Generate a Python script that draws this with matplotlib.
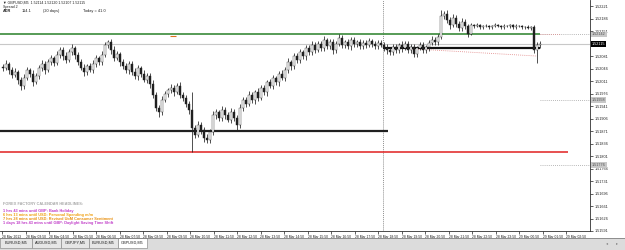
import matplotlib
matplotlib.use("Agg")
import matplotlib.pyplot as plt
from matplotlib.patches import Rectangle
from matplotlib.transforms import blended_transform_factory as btf
import numpy as np

plt.rcParams['font.family'] = ['Liberation Sans', 'DejaVu Sans']

# ---------------- data ----------------
ohlc_header = "GBPUSD,M5  1.52114 1.52120 1.52107 1.52115"
spread_text = "Spread 2"
adr_label = "ADR"
adr_value = "114.1"
adr_days = "(20 days)"
today_text = "Today = 41.0"

first_open_pips = 205.0
# closes in pips above 1.5000
close_pips = [
    204.8, 205.9, 204.2, 202.8, 203.6, 201.4, 199.7, 202.0, 204.2, 203.1,
    200.8, 202.5, 204.8, 205.9, 204.2, 206.4, 207.6, 206.2, 208.4, 209.8,
    208.1, 207.0, 209.2, 210.4, 208.4, 206.4, 204.8, 203.6, 205.3, 204.2,
    205.9, 207.6, 206.4, 208.4, 211.2, 212.0, 209.8, 207.6, 208.7, 206.4,
    205.3, 204.2, 205.9, 203.6, 202.5, 204.8, 203.1, 201.4, 202.5, 200.3,
    197.2, 193.6, 192.4, 195.8, 197.5, 198.6, 199.2, 198.0, 199.7, 197.2,
    196.4, 194.7, 193.0, 188.0, 186.0, 188.8, 187.4, 185.2, 184.6, 186.8,
    191.6, 192.4, 190.8, 193.0, 191.6, 190.2, 192.4, 190.8, 188.8, 193.6,
    195.8, 194.7, 197.2, 195.8, 198.0, 196.4, 199.2, 198.0, 200.8, 199.7,
    202.0, 200.8, 203.1, 202.0, 204.2, 206.4, 205.3, 208.1, 207.0, 209.2,
    208.1, 210.4, 209.2, 211.2, 209.8, 211.5, 210.4, 212.6, 210.9, 212.0,
    209.8, 211.5, 213.2, 211.2, 212.0, 210.9, 212.6, 211.5, 212.0, 210.9,
    211.8, 211.2, 212.3, 211.5, 210.9, 211.8, 211.2, 210.4, 209.8, 209.2,
    210.6, 209.8, 211.2, 210.4, 211.5, 209.8, 210.6, 208.7, 210.4, 211.2,
    209.8, 210.6, 211.8, 212.6, 212.0, 213.4, 219.3, 219.9, 218.2, 216.8,
    218.8, 217.1, 216.0, 217.6, 216.5, 214.3, 216.8, 216.5, 216.8, 216.2,
    216.5, 216.5, 216.2, 216.5, 216.8, 216.5, 216.2, 216.5, 216.5, 216.8,
    216.2, 216.5, 216.5, 216.2, 216.2, 216.0, 216.2, 209.8, 211.2, 211.5,
]
up_wick = [
    0.8, 1.0, 0.6, 0.9, 1.2, 0.7, 0.8, 1.1, 0.9, 0.6, 1.0, 0.8, 0.7, 1.2, 0.9, 1.0, 0.8, 0.6, 1.1, 0.9,
    0.7, 1.0, 0.8, 1.2, 0.6, 0.9, 0.8, 1.0, 0.7, 0.9, 1.1, 0.8, 0.6, 1.0, 0.9, 0.7, 0.8, 1.2, 0.9, 0.6,
    1.0, 0.8, 0.7, 0.9, 1.1, 0.8, 0.6, 1.0, 0.9, 0.8, 1.2, 0.7, 0.9, 1.0, 0.8, 0.6, 1.1, 0.9, 0.8, 1.0,
    0.7, 0.9, 0.8, 5.0, 0.9, 1.1, 0.8, 0.7, 1.0, 0.9, 1.2, 0.8, 0.6, 1.0, 0.9, 0.7, 1.1, 0.8, 0.9, 1.0,
    0.8, 0.7, 1.0, 0.9, 0.6, 1.1, 0.8, 0.9, 0.7, 1.0, 0.8, 0.6, 0.9, 1.0, 0.8, 1.2, 0.7, 0.9, 0.8, 1.0,
    0.6, 0.9, 0.8, 1.0, 0.7, 0.9, 0.8, 1.1, 0.6, 0.8, 0.9, 0.7, 1.0, 0.8, 0.6, 0.9, 0.7, 0.8, 0.6, 0.9,
    0.7, 0.8, 0.9, 0.6, 0.8, 0.7, 0.9, 0.8, 1.0, 0.7, 0.9, 0.8, 0.6, 1.0, 0.8, 0.7, 0.9, 0.8, 0.6, 0.9,
    0.8, 0.7, 0.9, 1.0, 0.8, 0.9, 1.7, 0.9, 1.2, 0.8, 1.0, 0.7, 0.9, 1.1, 0.8, 0.6, 0.5, 0.4, 0.5, 0.3,
    0.4, 0.5, 0.3, 0.4, 0.5, 0.4, 0.3, 0.5, 0.4, 0.4, 0.3, 0.5, 0.4, 0.3, 0.4, 0.5, 0.4, 0.6, 0.9, 0.7,
]
down_wick = [
    0.9, 0.7, 1.1, 0.8, 0.6, 1.0, 1.2, 0.8, 0.7, 0.9, 1.0, 0.6, 0.8, 0.9, 1.1, 0.7, 0.8, 1.0, 0.6, 0.9,
    1.0, 0.8, 0.7, 0.9, 1.1, 0.8, 0.6, 1.0, 0.9, 0.7, 0.8, 1.0, 0.9, 0.7, 0.6, 0.8, 1.0, 0.9, 0.7, 1.1,
    0.8, 0.9, 1.0, 0.7, 0.8, 1.1, 0.9, 0.7, 0.8, 1.2, 0.9, 1.0, 1.4, 0.8, 0.7, 0.9, 0.8, 1.0, 0.6, 0.9,
    1.0, 0.8, 1.1, 6.8, 0.9, 0.7, 1.0, 1.2, 0.8, 0.9, 0.7, 1.0, 0.8, 0.9, 1.1, 0.7, 0.8, 1.0, 1.4, 0.8,
    0.9, 1.0, 0.7, 0.8, 1.1, 0.9, 0.7, 0.8, 1.0, 0.6, 0.9, 0.8, 1.0, 0.7, 0.9, 0.8, 1.1, 0.7, 0.9, 0.8,
    0.8, 1.0, 0.7, 0.9, 0.8, 0.6, 1.0, 0.8, 0.9, 0.7, 1.2, 0.8, 0.6, 0.9, 0.8, 0.7, 1.0, 0.8, 0.9, 0.7,
    0.8, 0.9, 0.7, 1.0, 0.8, 0.9, 0.7, 0.8, 1.0, 0.9, 0.7, 0.8, 0.9, 1.1, 0.7, 0.8, 0.9, 0.9, 0.8, 0.7,
    0.9, 0.8, 1.0, 0.7, 0.9, 0.8, 0.6, 0.9, 0.8, 1.0, 0.7, 0.9, 0.8, 1.0, 0.8, 0.9, 0.4, 0.5, 0.3, 0.4,
    0.5, 0.3, 0.4, 0.5, 0.4, 0.3, 0.5, 0.4, 0.3, 0.5, 0.4, 0.4, 0.3, 0.5, 0.4, 0.3, 0.5, 0.8, 3.6, 0.8,
]

# the label hidden behind the bid box (1.52116) is not shown
price_ticks = [1.52221, 1.52186, 1.52151, 1.52081, 1.52046, 1.52011,
               1.51976, 1.51941, 1.51906, 1.51871, 1.51836, 1.51801, 1.51766,
               1.51731, 1.51696, 1.51661, 1.51626, 1.51591]

date_labels = ["28 Mar 2013", "28 Mar 03:50", "28 Mar 04:50", "28 Mar 05:50",
               "28 Mar 06:50", "28 Mar 07:50", "28 Mar 08:50", "28 Mar 09:50",
               "28 Mar 10:50", "28 Mar 11:50", "28 Mar 12:50", "28 Mar 13:50",
               "28 Mar 14:50", "28 Mar 15:50", "28 Mar 16:50", "28 Mar 17:50",
               "28 Mar 18:50", "28 Mar 19:50", "28 Mar 20:50", "28 Mar 21:50",
               "28 Mar 22:50", "28 Mar 23:50", "29 Mar 00:50", "29 Mar 01:50",
               "29 Mar 02:50"]

green_level = 1.52142
bid_level = 1.52115
upper_black_level = 1.52104
lower_black_level = 1.51871
red_level = 1.51812
orange_mark_level = 1.52137
marker_levels = [1.52142, 1.51958, 1.51776]
marker_texts = ["1.52142", "1.51958", "1.51776"]
ma_values = [1.52106, 1.52081]

headline_title = "FOREX FACTORY CALENDAR HEADLINES:"
headlines = ["1 hrs 43 mins until GBP: Bank Holiday",
             "6 hrs 13 mins until USD: Personal Spending m/m",
             "7 hrs 28 mins until USD: Revised UoM Consumer Sentiment",
             "1 days 18 hrs 43 mins until GBP: Daylight Saving Time Shift"]
headline_colors = ["#c03cc8", "#f0a010", "#e89010", "#c03cc8"]

tabs = ["EURUSD,M5", "AUDUSD,M5", "GBPJPY,M5", "EURUSD,M5", "GBPUSD,M5"]

# ---------------- figure ----------------
W, H = 625, 250
fig = plt.figure(figsize=(6.25, 2.5), dpi=100)
fig.patch.set_facecolor("white")

def fx(px):
    return px / W

def fy(py):
    return 1 - py / H

AX_BOTTOM = 231
ax = fig.add_axes([0, fy(AX_BOTTOM), fx(590), AX_BOTTOM / H])
ax.set_facecolor("white")

pip = 1e-4
closes = 1.5 + np.array(close_pips) * pip
opens = np.concatenate([[1.5 + first_open_pips * pip], closes[:-1]])
highs = np.maximum(opens, closes) + np.array(up_wick) * pip
lows = np.minimum(opens, closes) - np.array(down_wick) * pip
n = len(closes)
xs = np.arange(n)

def px2i(px):
    return px / 3.0 - 1

# horizontal / vertical lines
ax.axhline(bid_level, color="#c8c8c8", lw=0.8, zorder=1)
ax.axvline(px2i(383), color="#909090", lw=0.7, ls=(0, (1, 1)), zorder=1)
ax.hlines(green_level, px2i(0), px2i(540), color="#3a8a3a", lw=1.2, zorder=3)
ax.hlines(lower_black_level, px2i(0), px2i(388), color="#202020", lw=1.6, zorder=3)
ax.hlines(red_level, px2i(0), px2i(568), color="#e02020", lw=1.1, zorder=3)
ax.hlines(upper_black_level, px2i(383), px2i(540), color="#101010", lw=1.6, zorder=4)
ax.hlines(orange_mark_level, px2i(170), px2i(176), color="#e07020", lw=0.8, zorder=3)
for lv in marker_levels:
    ax.hlines(lv, px2i(540), px2i(590), color="#a0a0a0", lw=0.6, ls=(0, (1, 1.5)), zorder=1)
ax.hlines(green_level, px2i(540), px2i(560), color="#e09090", lw=0.6, ls=(0, (1, 1.5)), zorder=1)
ax.plot([px2i(383), px2i(537)], ma_values, color="#e08080", lw=0.6, ls=(0, (1, 1.5)), zorder=2)

# candles
ax.vlines(xs, lows, highs, color="#202020", lw=0.55, zorder=5)
for i in range(n):
    o, c = opens[i], closes[i]
    lo = min(o, c)
    h = max(abs(c - o), 0.000012)
    if c >= o:
        ax.add_patch(Rectangle((i - 0.33, lo), 0.66, h, facecolor="white",
                               edgecolor="#303030", lw=0.3, zorder=6))
    else:
        ax.add_patch(Rectangle((i - 0.33, lo), 0.66, h, facecolor="#202020",
                               edgecolor="#202020", lw=0.3, zorder=6))

ax.set_xlim(px2i(0), px2i(590))
ax.set_ylim(1.515912, 1.52238)

for s in ["top", "left"]:
    ax.spines[s].set_visible(False)
ax.spines["right"].set_color("#303030")
ax.spines["right"].set_linewidth(0.6)
ax.spines["bottom"].set_color("#303030")
ax.spines["bottom"].set_linewidth(0.6)

ax.yaxis.tick_right()
ax.set_yticks(price_ticks)
ax.set_yticklabels([f"{v:.5f}" for v in price_ticks])
ax.tick_params(axis="y", length=2, width=0.5, labelsize=2.7, pad=1.2,
               colors="#202020")

date_pos = [px2i(2 + 23.5 * k) for k in range(len(date_labels))]
ax.set_xticks(date_pos)
ax.set_xticklabels(date_labels)
ax.tick_params(axis="x", length=2, width=0.5, labelsize=2.4, pad=0.8,
               colors="#202020")
for lab in ax.get_xticklabels():
    lab.set_horizontalalignment("left")

# price markers on axis
tr = btf(ax.transAxes, ax.transData)
for lv, tx in zip(marker_levels, marker_texts):
    ax.text(1.0 + 2 / 590, lv, tx, transform=tr, fontsize=2.7, va="center",
            ha="left", color="#505050", clip_on=False, zorder=10,
            bbox=dict(boxstyle="square,pad=0.2", fc="#c8c8c8", ec="none"))
ax.text(1.0 + 2 / 590, bid_level, f"{bid_level:.5f}", transform=tr, fontsize=2.7,
        va="center", ha="left", color="white", clip_on=False, zorder=11,
        bbox=dict(boxstyle="square,pad=0.2", fc="black", ec="none"))

# top-left info text
fig.text(fx(3), fy(3), "\u25bc " + ohlc_header, fontsize=2.6, va="center",
         ha="left", color="#202020")
fig.text(fx(3), fy(7), spread_text, fontsize=2.6, va="center", ha="left",
         color="#202020")
fig.text(fx(3), fy(11), adr_label, fontsize=2.8, va="center", ha="left",
         color="#202020", weight="bold")
fig.text(fx(22), fy(11), adr_value, fontsize=2.8, va="center", ha="left",
         color="#202020")
fig.text(fx(43), fy(11), adr_days, fontsize=2.8, va="center", ha="left",
         color="#202020")
fig.text(fx(83), fy(11), today_text, fontsize=2.8, va="center", ha="left",
         color="#202020")

# headlines
fig.text(fx(3), fy(204), headline_title, fontsize=2.8, va="center", ha="left",
         color="#a8a8a8", weight="bold")
for k, (t, c) in enumerate(zip(headlines, headline_colors)):
    fig.text(fx(3), fy(211 + 4.1 * k), t, fontsize=2.8, va="center", ha="left",
             color=c, weight="bold")

# tab bar
fig.patches.append(Rectangle((0, 0), 1, fy(237.5), transform=fig.transFigure,
                             facecolor="#dcdcdc", edgecolor="none", zorder=0))
fig.add_artist(plt.Line2D([0, 1], [fy(237.5), fy(237.5)], color="#808080", lw=0.6))
tab_edges = [0, 32, 61, 89, 118, 147]
for k, name in enumerate(tabs):
    x0, x1 = tab_edges[k], tab_edges[k + 1]
    active = (k == len(tabs) - 1)
    fig.patches.append(Rectangle((fx(x0), fy(248)), fx(x1 - x0), (248 - 238) / H,
                                 transform=fig.transFigure,
                                 facecolor="white" if active else "#e6e6e6",
                                 edgecolor="#909090", lw=0.5, zorder=1))
    fig.text(fx((x0 + x1) / 2), fy(243), name, fontsize=2.8, va="center",
             ha="center", color="#202020")
fig.text(fx(607), fy(243.5), "\u25c2", fontsize=3, va="center", ha="center",
         color="#808080")
fig.text(fx(617), fy(243.5), "\u25b8", fontsize=3, va="center", ha="center",
         color="#808080")

fig.savefig("out.png", dpi=100, facecolor="white")
